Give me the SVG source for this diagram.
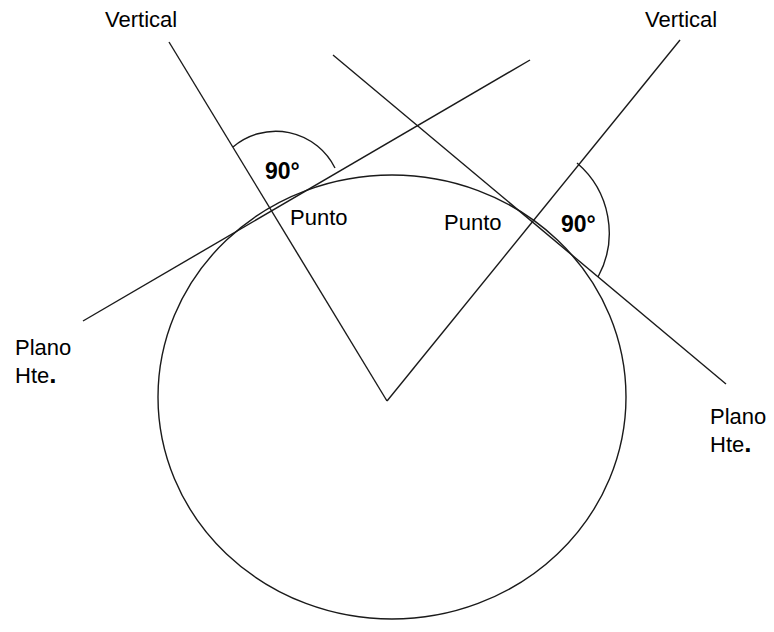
<svg xmlns="http://www.w3.org/2000/svg" width="774" height="632" viewBox="0 0 774 632">
<style>
.ln{fill:none;stroke:#1a1a1a;stroke-width:1.4}
.t{font-family:"Liberation Sans",Arial,sans-serif;font-size:22px;fill:#000}
.b{font-family:"Liberation Sans",Arial,sans-serif;font-size:23px;font-weight:bold;fill:#000}
</style>
<rect width="774" height="632" fill="#fff"/>
<g id="circle"><ellipse class="ln" cx="392" cy="397" rx="234" ry="222"/></g>
<g id="connectors">
<line class="ln" x1="169" y1="42" x2="387" y2="401"/>
<line class="ln" x1="387" y1="401" x2="680" y2="40"/>
<line class="ln" x1="83" y1="321" x2="530" y2="60"/>
<line class="ln" x1="333" y1="55" x2="726" y2="384"/>
<path class="ln" d="M233,147 A66,66 0 0 1 335,168"/>
<path class="ln" d="M577,163 A92,92 0 0 1 598,277"/>
</g>
<g id="labels">
<text class="t" x="105" y="27">Vertical</text>
<text class="t" x="645" y="27">Vertical</text>
<text class="b" x="265" y="179">90°</text>
<text class="b" x="561" y="232">90°</text>
<text class="t" x="290" y="225">Punto</text>
<text class="t" x="444" y="230">Punto</text>
<text class="t" x="15" y="355">Plano</text>
<text class="t" x="15" y="383">Hte<tspan font-weight="bold" font-size="26">.</tspan></text>
<text class="t" x="710" y="424">Plano</text>
<text class="t" x="710" y="452">Hte<tspan font-weight="bold" font-size="26">.</tspan></text>
</g>
</svg>
